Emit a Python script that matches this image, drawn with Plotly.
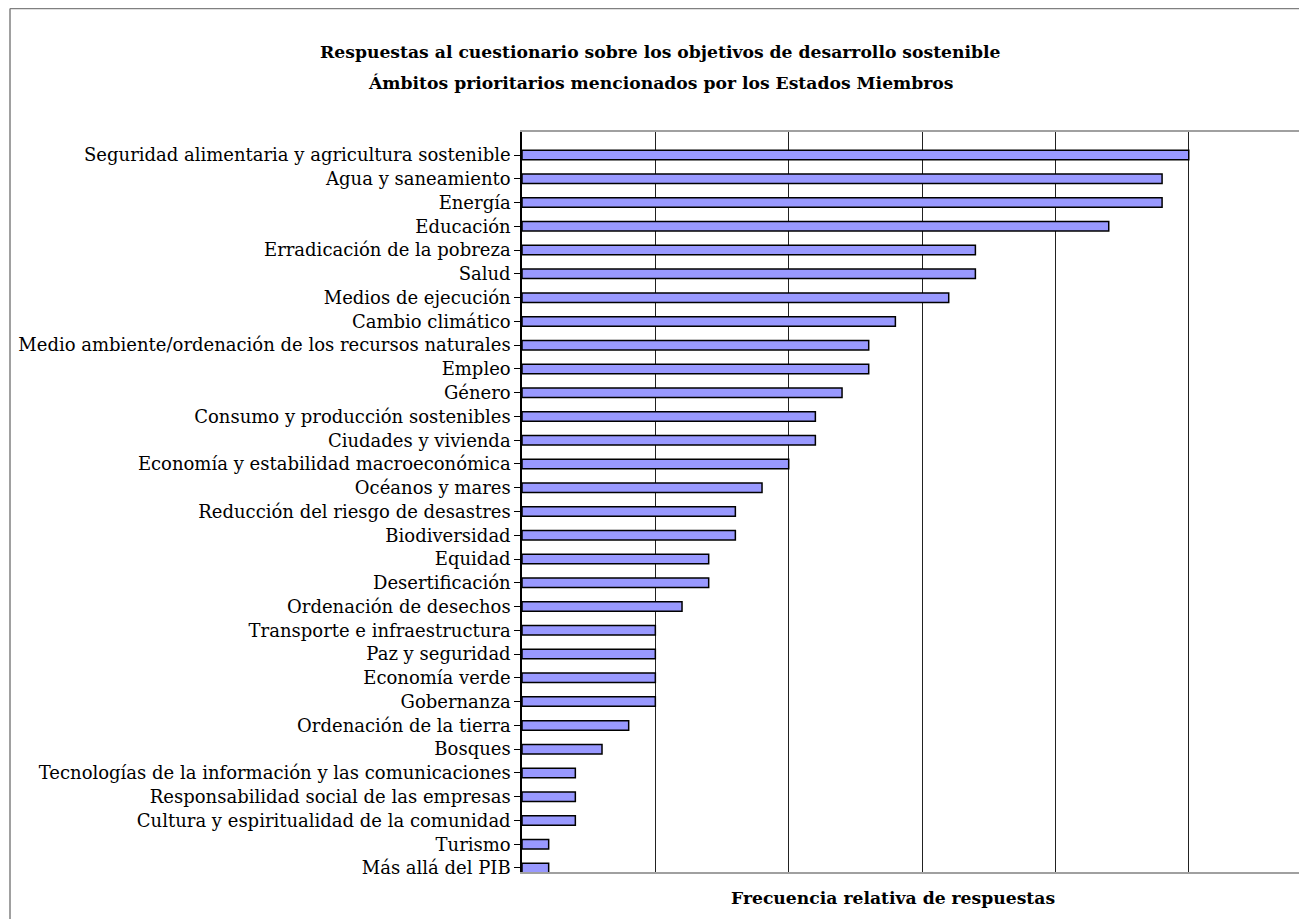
import plotly.graph_objects as go

categories = [
    "Seguridad alimentaria y agricultura sostenible",
    "Agua y saneamiento",
    "Energía",
    "Educación",
    "Erradicación de la pobreza",
    "Salud",
    "Medios de ejecución",
    "Cambio climático",
    "Medio ambiente/ordenación de los recursos naturales",
    "Empleo",
    "Género",
    "Consumo y producción sostenibles",
    "Ciudades y vivienda",
    "Economía y estabilidad macroeconómica",
    "Océanos y mares",
    "Reducción del riesgo de desastres",
    "Biodiversidad",
    "Equidad",
    "Desertificación",
    "Ordenación de desechos",
    "Transporte e infraestructura",
    "Paz y seguridad",
    "Economía verde",
    "Gobernanza",
    "Ordenación de la tierra",
    "Bosques",
    "Tecnologías de la información y las comunicaciones",
    "Responsabilidad social de las empresas",
    "Cultura y espiritualidad de la comunidad",
    "Turismo",
    "Más allá del PIB",
]
values = [25, 24, 24, 22, 17, 17, 16, 14, 13, 13, 12, 11, 11, 10, 9, 8, 8, 7, 7, 6,
          5, 5, 5, 5, 4, 3, 2, 2, 2, 1, 1]

title_lines = [
    "Respuestas al cuestionario sobre los objetivos de desarrollo sostenible",
    "Ámbitos prioritarios mencionados por los Estados Miembros",
]
x_title = "Frecuencia relativa de respuestas"

FONT = "DejaVu Serif, serif"

# page has an 8px body margin; work in page pixel coordinates and convert
OFF = 8
W, H = 1307 - OFF, 919 - OFF
L, T = 522 - OFF, 132 - OFF
B = H - (872 - OFF)
R = 0
pw, ph = W - L - R, H - T - B

fig = go.Figure(go.Bar(
    y=categories, x=values, orientation="h",
    marker=dict(color="#9999ff", line=dict(color="#000000", width=1.5)),
    width=0.4,
))

fig.update_layout(
    width=W, height=H,
    margin=dict(l=L, t=T, r=R, b=B),
    paper_bgcolor="white", plot_bgcolor="white",
    font=dict(family=FONT, size=18, color="#000000"),
    showlegend=False,
)
fig.update_xaxes(
    range=[0, pw / 26.67], tickvals=[5, 10, 15, 20, 25], showticklabels=False,
    showgrid=True, gridcolor="#222222", gridwidth=1,
    showline=True, linecolor="#a0a0a0", linewidth=1.5, mirror=True,
    zeroline=False, ticks="",
)
fig.update_yaxes(
    type="category", range=[30.17, -0.97],
    showline=True, linecolor="#000000", linewidth=1.5,
    ticks="outside", ticklen=6, tickcolor="#000000", tickwidth=1,
    showgrid=False, zeroline=False,
    tickfont=dict(family=FONT, size=18),
)

def px_x(x):
    return (x - OFF - L) / pw

def px_y(y):
    return (H - B - (y - OFF)) / ph

for i, line in enumerate(title_lines):
    fig.add_annotation(
        text=f"<b>{line}</b>", xref="paper", yref="paper",
        x=px_x(660), y=px_y([52, 83][i]), xanchor="center", yanchor="middle",
        showarrow=False, font=dict(family=FONT, size=17.2),
    )
fig.add_annotation(
    text=f"<b>{x_title}</b>", xref="paper", yref="paper",
    x=px_x(893), y=px_y(898), xanchor="center", yanchor="middle",
    showarrow=False, font=dict(family=FONT, size=17.2),
)

# outer frame (left and top edges visible)
fig.add_shape(type="line", xref="paper", yref="paper",
              x0=px_x(10), x1=px_x(10), y0=px_y(8.5), y1=px_y(930),
              line=dict(color="#808080", width=1.5))
fig.add_shape(type="line", xref="paper", yref="paper",
              x0=px_x(10), x1=px_x(1320), y0=px_y(8.5), y1=px_y(8.5),
              line=dict(color="#808080", width=1.5))

fig.write_html("out.html")
